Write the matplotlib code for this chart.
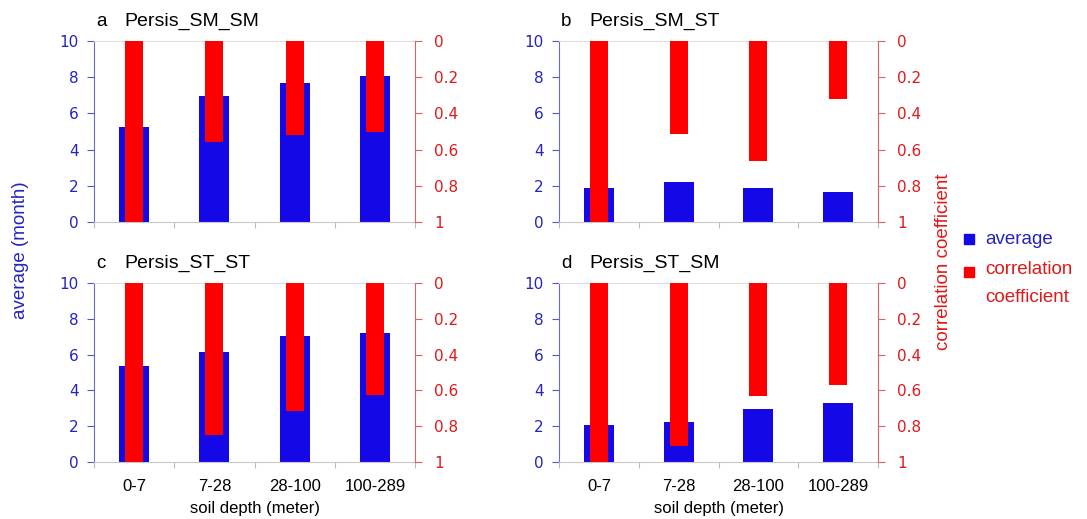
import matplotlib
matplotlib.use("Agg")
import matplotlib.pyplot as plt
import numpy as np

categories = ["0-7", "7-28", "28-100", "100-289"]
panel_letters = ["a", "b", "c", "d"]
panel_titles = ["Persis_SM_SM", "Persis_SM_ST", "Persis_ST_ST", "Persis_ST_SM"]
avg_a = [5.25, 6.98, 7.68, 8.05]
avg_b = [1.90, 2.21, 1.86, 1.64]
avg_c = [5.39, 6.12, 7.06, 7.23]
avg_d = [2.05, 2.25, 2.94, 3.27]
corr_a = [1.0, 0.56, 0.517, 0.503]
corr_b = [1.0, 0.514, 0.661, 0.322]
corr_c = [1.0, 0.851, 0.714, 0.623]
corr_d = [1.0, 0.909, 0.632, 0.569]
avgs = [avg_a, avg_b, avg_c, avg_d]
corrs = [corr_a, corr_b, corr_c, corr_d]
left_ticks = [0, 2, 4, 6, 8, 10]
right_ticks = [0, 0.2, 0.4, 0.6, 0.8, 1]
right_labels = ["0", "0.2", "0.4", "0.6", "0.8", "1"]

W, H = 1087, 519
fig = plt.figure(figsize=(W / 100, H / 100), dpi=100)

BLUE_BAR = "#1408e6"
RED_BAR = "#ff0000"
BLUE_TXT = "#2424c0"
RED_TXT = "#e01818"
SANS = "Liberation Sans"
NUM = "DejaVu Sans"

# axes boxes in pixels: (left, top, right, bottom)
boxes = [(94, 41, 415, 222), (559, 41, 878, 222),
         (94, 283, 415, 462), (559, 283, 878, 462)]

def px(l, t, r, b):
    return [l / W, 1 - b / H, (r - l) / W, (b - t) / H]

x = np.arange(len(categories))
for i, (box, avg, corr) in enumerate(zip(boxes, avgs, corrs)):
    ax = fig.add_axes(px(*box))
    ax.bar(x, avg, width=0.375, color=BLUE_BAR, zorder=2)
    ax.set_xlim(-0.5, 3.5)
    ax.set_ylim(0, 10)
    ax.set_yticks(left_ticks)
    for lab in ax.get_yticklabels():
        lab.set_family(NUM)
    ax.tick_params(axis="y", colors="#5555cc", labelcolor=BLUE_TXT, labelsize=11,
                   length=5, width=0.8, direction="out", pad=6)
    ax.set_xticks(x)
    ax.set_xticks([-0.5, 0.5, 1.5, 2.5, 3.5], minor=True)
    ax.tick_params(axis="x", which="major", length=0, pad=12)
    ax.tick_params(axis="x", which="minor", length=4, color="#bbbbbb", width=0.8)
    if i >= 2:
        ax.set_xticklabels(categories, fontsize=12, family=SANS)
        ax.set_xlabel("soil depth (meter)", fontsize=12, family=SANS, labelpad=5)
    else:
        ax.set_xticklabels([])
    ax.spines["left"].set_color("#6a6ad0")
    ax.spines["bottom"].set_color("#c8c8c8")
    ax.spines["top"].set_color("#dddddd")
    ax.spines["right"].set_visible(False)

    ax2 = ax.twinx()
    ax2.bar(x, corr, width=0.225, bottom=0, color=RED_BAR, zorder=3)
    ax2.set_ylim(1, 0)
    ax2.set_yticks(right_ticks)
    ax2.set_yticklabels(right_labels, family=NUM)
    ax2.tick_params(axis="y", colors="#e06060", labelcolor=RED_TXT, labelsize=11,
                    length=5, width=0.8, direction="out", pad=9)
    ax2.spines["right"].set_color("#e06060")
    ax2.spines["left"].set_visible(False)
    ax2.spines["top"].set_visible(False)
    ax2.spines["bottom"].set_visible(False)

    l, t, r, b = box
    fig.text((l + 2) / W, 1 - (t - 20) / H, panel_letters[i], fontsize=13.5,
             family=SANS, va="center", ha="left")
    fig.text((l + 30) / W, 1 - (t - 20) / H, panel_titles[i], fontsize=14,
             family=SANS, va="center", ha="left")

fig.text(21 / W, 1 - 250 / H, "average (month)", rotation=90, color=BLUE_TXT,
         fontsize=13.5, family=SANS, va="center", ha="center")
fig.text(943 / W, 1 - 262 / H, "correlation coefficient", rotation=90, color=RED_TXT,
         fontsize=13.5, family=SANS, va="center", ha="center")

# legend
fig.patches.append(plt.Rectangle((964 / W, 1 - 244 / H), 10 / W, 10 / H,
                                 transform=fig.transFigure, color=BLUE_BAR))
fig.text(985 / W, 1 - 239 / H, "average", color=BLUE_TXT, fontsize=13.5,
         family=SANS, va="center", ha="left")
fig.patches.append(plt.Rectangle((964 / W, 1 - 277 / H), 10 / W, 10 / H,
                                 transform=fig.transFigure, color=RED_BAR))
fig.text(985 / W, 1 - 270 / H, "correlation", color=RED_TXT, fontsize=13.5,
         family=SANS, va="center", ha="left")
fig.text(985 / W, 1 - 298 / H, "coefficient", color=RED_TXT, fontsize=13.5,
         family=SANS, va="center", ha="left")

fig.savefig("out.png", dpi=100)
